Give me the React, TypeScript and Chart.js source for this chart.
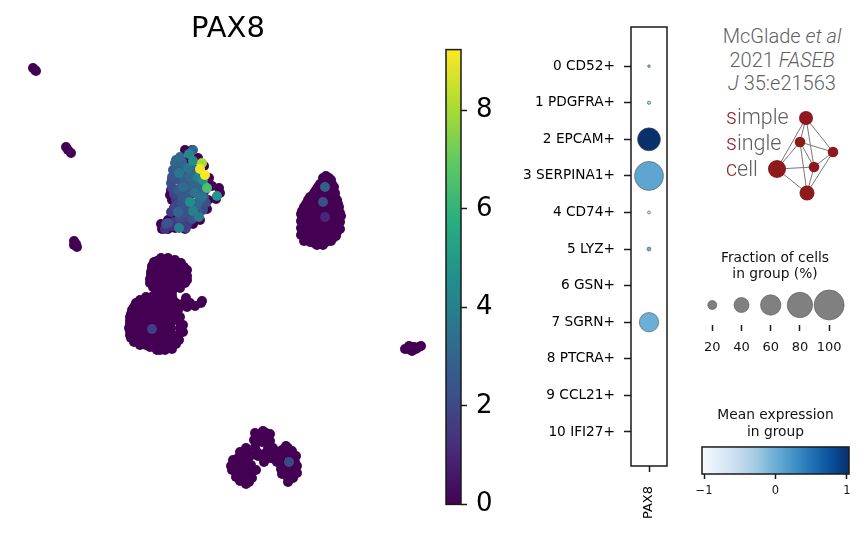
import React, { useEffect, useRef } from "react";
import { Chart, registerables } from "chart.js";
Chart.register(...registerables);

const FONT = "'DejaVu Sans'";
const geneTitle = "PAX8";

// ---- UMAP embedding points: [x, y] in embedding units; zero-expression cells
const clusterTinyA = [[33, 68], [35, 70], [36, 71]];
const clusterTinyB = [[66, 147], [68, 150], [71, 153]];
const clusterTinyC = [[74, 241], [76, 244], [77, 247], [74, 245]];
const clusterMainTop = [
  [157, 261], [164, 260], [171, 261], [177, 263], [184, 267], [187, 270], [152, 266], [158, 268], [165, 267], [172, 268],
  [179, 270], [186, 275], [151, 272], [157, 275], [164, 274], [171, 275], [178, 276], [187, 280], [150, 279], [156, 282],
  [163, 281], [170, 281], [177, 282], [183, 283], [153, 287], [160, 288], [167, 288], [174, 287], [180, 288], [158, 292],
  [165, 293], [172, 292], [150, 283],
  [154, 262], [161, 258], [168, 258], [175, 260], [181, 263], [186, 271], [187, 276], [185, 283], [151, 275], [152, 269], [151, 281],
];
const clusterMainLow = [
  [140, 300], [147, 300], [154, 300], [161, 300], [168, 300], [173, 300],
  [134, 307], [141, 307], [148, 307], [155, 307], [162, 307], [169, 307], [175, 307],
  [131, 314], [138, 314], [145, 314], [152, 314], [159, 314], [166, 314], [173, 314], [177, 314],
  [130, 321], [137, 321], [144, 321], [151, 321], [158, 321], [165, 321], [172, 321], [179, 321],
  [129, 328], [136, 328], [143, 328], [150, 328], [157, 328], [164, 328], [171, 328], [180, 328],
  [130, 335], [137, 335], [144, 335], [151, 335], [158, 335], [165, 335], [172, 335], [178, 335],
  [136, 341], [143, 341], [150, 341], [157, 341], [164, 341], [171, 341], [175, 339],
  [154, 347], [161, 347], [168, 347], [160, 350], [165, 350],
  [136, 303], [132, 310], [130, 317], [130, 324], [130, 331], [131, 338], [134, 342], [140, 345], [146, 345], [150, 347],
  [157, 350], [172, 349], [176, 344], [179, 340], [183, 332], [183, 325], [180, 317], [178, 310], [176, 303], [172, 296],
  [146, 297], [153, 296], [160, 296],
];
const clusterMainSide = [[186, 298], [184, 303], [190, 303], [187, 307], [195, 306], [201, 303], [202, 301]];
const clusterRight = [
  [323, 178], [329, 178], [320, 184], [326, 184], [332, 184],
  [316, 190], [322, 190], [329, 190], [333, 190],
  [310, 197], [317, 197], [324, 197], [331, 197], [335, 197],
  [306, 204], [313, 204], [320, 204], [327, 204], [334, 204], [338, 204],
  [302, 211], [309, 211], [316, 211], [323, 211], [330, 211], [337, 211], [340, 213],
  [303, 218], [310, 218], [317, 218], [324, 218], [331, 218], [338, 218],
  [303, 225], [310, 225], [317, 225], [324, 225], [331, 225], [338, 225],
  [302, 232], [309, 232], [316, 232], [323, 232], [330, 232], [337, 232],
  [306, 238], [313, 238], [320, 238], [327, 238], [333, 238],
  [314, 243], [320, 243], [326, 242],
  [326, 176], [318, 187], [314, 193], [308, 200], [304, 207], [301, 214], [301, 221], [301, 228], [301, 235], [304, 241],
  [310, 242], [317, 245], [323, 245], [331, 241], [336, 236], [340, 229], [340, 222], [341, 216], [339, 207], [337, 200],
  [335, 193], [334, 187], [331, 180],
];
const clusterFar = [[408, 349], [412, 351], [414, 347], [419, 347], [421, 346], [409, 346], [416, 349], [411, 347], [405, 349]];
const clusterBottom = [
  [260, 434], [266, 433], [263, 439], [258, 440], [268, 438], [258, 436],
  [233, 465], [238, 458], [236, 472], [242, 453], [244, 462], [241, 470], [244, 478], [249, 482],
  [250, 456], [251, 465], [250, 473], [256, 470], [255, 447], [268, 448], [264, 454], [257, 452], [272, 452],
  [288, 448], [286, 452], [281, 457], [290, 455], [295, 462], [284, 464], [277, 462], [290, 468],
  [285, 472], [294, 472], [288, 478], [281, 469], [247, 450], [238, 465], [244, 471], [291, 461],
  [264, 462], [270, 458],
  [233, 460], [231, 466], [232, 470], [236, 477], [240, 481], [246, 484], [252, 478], [240, 452], [246, 448],
  [286, 446], [292, 451], [296, 456], [297, 466], [297, 473], [293, 478], [288, 482], [282, 474], [278, 458], [282, 450],
  [255, 433], [263, 431], [270, 434], [270, 441], [262, 442], [254, 440], [247, 457], [240, 464], [248, 468],
  [273, 448], [276, 452], [268, 455], [274, 459], [258, 456],
];
const clusterEpiEdge = [
  [185, 150], [192, 150], [198, 158], [204, 166], [209, 178], [212, 186], [219, 188], [220, 193], [216, 199], [208, 200],
  [207, 209], [200, 220], [193, 224], [185, 229], [175, 228], [168, 229], [162, 229], [161, 224], [168, 220], [173, 215],
  [174, 208], [172, 200], [171, 190], [172, 180], [176, 170], [180, 160],
  [180, 170], [186, 185], [178, 200], [190, 195], [195, 215], [186, 205], [180, 208], [170, 195], [176, 190], [176, 178],
  [186, 162], [197, 170], [205, 190], [198, 212], [183, 222], [174, 218],
];

// ---- cells with non-zero PAX8: [x, y, expression]
const expressing = [
  [172, 177, 2.4], [172, 188, 2.0], [171, 183, 2.2], [174, 194, 1.9], [176, 200, 1.5], [175, 207, 2.0], [173, 170, 2.6],
  [178, 180, 2.3], [178, 190, 2.6], [181, 195, 2.1], [182, 205, 2.4], [180, 217, 2.2], [174, 222, 1.6], [166, 224, 2.2],
  [168, 223, 2.4], [185, 212, 2.3], [188, 223, 1.5], [187, 217, 2.0], [192, 219, 2.4], [184, 178, 2.8], [186, 170, 2.6],
  [181, 167, 2.7], [176, 160, 2.8], [190, 190, 2.7], [199, 192, 3.0], [204, 197, 2.4], [206, 203, 2.2], [195, 207, 2.8],
  [203, 210, 2.1], [193, 170, 3.0], [197, 183, 3.0],
  [183, 172, 2.4], [187, 195, 2.2], [179, 203, 2.0], [188, 208, 2.3], [171, 212, 1.6], [165, 229, 1.4], [172, 226, 1.3],
  [186, 228, 1.8], [198, 211, 2.6], [180, 222, 1.8], [177, 167, 2.5], [186, 182, 2.5], [197, 188, 2.4], [203, 189, 3.0],
  [200, 172, 3.8],
  [193, 150, 3.0], [189, 154, 4.2], [180, 157, 3.2], [193, 161, 4.5], [175, 163, 3.0], [182, 162, 3.0], [179, 173, 3.6],
  [188, 168, 3.5], [198, 177, 4.0], [190, 177, 3.2], [183, 187, 3.2], [193, 185, 3.0], [203, 180, 4.6], [195, 193, 3.5],
  [202, 197, 3.5], [183, 198, 2.6], [190, 202, 4.5], [198, 202, 3.2], [193, 211, 4.0], [178, 212, 3.0], [199, 217, 3.8],
  [179, 228, 4.0], [217, 196, 4.8], [207, 188, 6.5], [202, 163, 8.0], [200, 169, 9.0], [205, 175, 9.2],
  [325, 187, 2.7], [323, 202, 2.2], [325, 217, 1.0], [152, 329, 1.7], [289, 462, 2.0],
];

const umapColorTicks = [0, 2, 4, 6, 8];
const umapMax = 9.23;

// ---- dot plot
const clusterNames = ["0 CD52+", "1 PDGFRA+", "2 EPCAM+", "3 SERPINA1+", "4 CD74+", "5 LYZ+", "6 GSN+", "7 SGRN+", "8 PTCRA+", "9 CCL21+", "10 IFI27+"];
const fractionPct = [3.9, 5.5, 70, 95.6, 4.6, 6.8, 0, 55.9, 0, 0, 0];
const meanExpr = [-0.1, -0.3, 1, 0.08, -0.6, 0, 0, 0, 0, 0, 0];

// ---- legends
const sizeLegendPct = [20, 40, 60, 80, 100];
const meanTicks = [-1, 0, 1];
const meanTickLabels = ["\u22121", "0", "1"];

// ---- logo network
const logoX = [806, 800, 833, 814, 777, 807];
const logoY = [118, 142, 152, 167, 169, 193];
const logoR = [7, 5.3, 5.3, 5.3, 9, 7.5];
const logoEdges = [[4, 0], [0, 1], [0, 2], [0, 3], [1, 2], [1, 3], [1, 4], [1, 5], [4, 3], [4, 5], [3, 2], [3, 5], [2, 5]];

const VIRIDIS = ["#440154", "#472d7b", "#3b528b", "#2c728e", "#21918c", "#28ae80", "#5ec962", "#addc30", "#fde725"];
const BLUES = ["#f7fbff", "#deebf7", "#c6dbef", "#9ecae1", "#6baed6", "#4292c6", "#2171b5", "#08519c", "#08306b"];

function lookup(stops: string[], t: number) {
  const c = Math.max(0, Math.min(1, t)) * (stops.length - 1);
  const i = Math.min(stops.length - 2, Math.floor(c));
  const f = c - i;
  const rgb = (h: string) => [1, 3, 5].map((k) => parseInt(h.slice(k, k + 2), 16));
  const a = rgb(stops[i]);
  const b = rgb(stops[i + 1]);
  return `rgb(${a.map((v, k) => Math.round(v + (b[k] - v) * f)).join(",")})`;
}
const dotRadius = (pct: number) => 15 * Math.pow(pct / 100, 0.75);

const framePlugin = {
  id: "frame",
  afterDraw(chart: any, _a: any, opts: any) {
    if (!opts || !opts.on) return;
    const { left, top, right, bottom } = chart.chartArea;
    const c = chart.ctx;
    c.save();
    c.strokeStyle = "#1a1a1a";
    c.lineWidth = 1.5;
    c.strokeRect(left, top, right - left, bottom - top);
    c.restore();
  },
};

function gradientFill(chart: any, stops: string[], vertical: boolean) {
  const a = chart.chartArea;
  if (!a) return stops[0];
  const g = vertical
    ? chart.ctx.createLinearGradient(0, a.bottom, 0, a.top)
    : chart.ctx.createLinearGradient(a.left, 0, a.right, 0);
  stops.forEach((s, i) => g.addColorStop(i / (stops.length - 1), s));
  return g;
}

const plainPlugins = { legend: { display: false }, tooltip: { enabled: false }, title: { display: false } };
const fixedTicks = (vals: number[]) => (s: any) => {
  s.ticks = vals.map((value) => ({ value }));
};

const box = (left: number, top: number, width: number, height: number): React.CSSProperties => ({
  position: "absolute",
  left,
  top,
  width,
  height,
});

export default function App() {
  const umapRef = useRef<HTMLCanvasElement>(null);
  const cbarRef = useRef<HTMLCanvasElement>(null);
  const dotRef = useRef<HTMLCanvasElement>(null);
  const sizeRef = useRef<HTMLCanvasElement>(null);
  const meanRef = useRef<HTMLCanvasElement>(null);
  const logoRef = useRef<HTMLCanvasElement>(null);

  useEffect(() => {
    Chart.defaults.font.family = FONT;
    Chart.defaults.color = "#000";
    const base = { responsive: false, animation: false as const, maintainAspectRatio: false };
    const charts: Chart[] = [];

    const zeros = [
      ...clusterTinyA, ...clusterTinyB, ...clusterTinyC, ...clusterMainTop, ...clusterMainLow, ...clusterMainSide,
      ...clusterRight, ...clusterFar, ...clusterBottom, ...clusterEpiEdge,
    ].map(([x, y]) => ({ x, y, v: 0 }));
    const hot = expressing.map(([x, y, v]) => ({ x, y, v })).sort((a, b) => a.v - b.v);
    const cells = [...zeros, ...hot];

    charts.push(
      new Chart(umapRef.current!, {
        type: "scatter",
        data: {
          datasets: [
            {
              data: cells,
              pointRadius: 5,
              pointBorderWidth: 0,
              pointBackgroundColor: cells.map((p) => lookup(VIRIDIS, p.v / umapMax)),
            },
          ],
        },
        options: {
          ...base,
          layout: { autoPadding: false },
          plugins: {
            ...plainPlugins,
            title: {
              display: true,
              text: geneTitle,
              color: "#000",
              font: { family: FONT, size: 29, weight: "normal", lineHeight: 1.2 },
              padding: { top: 12, bottom: 3.2 },
            },
          },
          scales: {
            x: { display: false, min: 0, max: 456 },
            y: { display: false, min: 50, max: 537, reverse: true },
          },
        },
      } as any)
    );

    charts.push(
      new Chart(cbarRef.current!, {
        type: "bar",
        data: {
          labels: [geneTitle],
          datasets: [
            {
              data: [[0, umapMax]],
              barPercentage: 1,
              categoryPercentage: 1,
              backgroundColor: (c: any) => gradientFill(c.chart, VIRIDIS, true),
            },
          ],
        },
        options: {
          ...base,
          layout: { autoPadding: false, padding: { left: 6, top: 24, bottom: 24, right: 0 } },
          plugins: { ...plainPlugins, frame: { on: true } },
          scales: {
            x: { display: false },
            y: {
              position: "right",
              min: 0,
              max: umapMax,
              afterBuildTicks: fixedTicks(umapColorTicks),
              afterFit: (s: any) => {
                s.width = 59;
              },
              border: { display: false },
              grid: { drawOnChartArea: false, tickLength: 6, tickWidth: 1.5, tickColor: "#1a1a1a" },
              ticks: { font: { family: FONT, size: 26 }, padding: 9, color: "#000", callback: (v: any) => String(v) },
            },
          },
        },
        plugins: [framePlugin],
      } as any)
    );

    const dots = clusterNames
      .map((_, i) => ({ x: 0, y: i, r: dotRadius(fractionPct[i]), e: meanExpr[i] }))
      .filter((d, i) => fractionPct[i] > 0);
    charts.push(
      new Chart(dotRef.current!, {
        type: "bubble",
        data: {
          datasets: [
            {
              data: dots,
              clip: false,
              backgroundColor: dots.map((d) => lookup(BLUES, (d.e + 1) / 2)),
              borderColor: "#555",
              borderWidth: 0.6,
            },
          ],
        },
        options: {
          ...base,
          layout: { autoPadding: false, padding: { top: 30, right: 30, left: 0, bottom: 0 } },
          plugins: { ...plainPlugins, frame: { on: true } },
          scales: {
            x: {
              type: "linear",
              min: -1,
              max: 1,
              afterBuildTicks: fixedTicks([0]),
              afterFit: (s: any) => {
                s.height = 64;
              },
              border: { display: false },
              grid: { drawOnChartArea: false, tickLength: 6, tickWidth: 1.5, tickColor: "#1a1a1a" },
              ticks: { font: { family: FONT, size: 13 }, minRotation: 90, maxRotation: 90, padding: 14, color: "#000", callback: () => geneTitle },
            },
            y: {
              type: "linear",
              reverse: true,
              min: -1.07,
              max: 10.93,
              afterBuildTicks: fixedTicks(clusterNames.map((_, i) => i)),
              afterFit: (s: any) => {
                s.width = 121;
              },
              border: { display: false },
              grid: { drawOnChartArea: false, tickLength: 7, tickWidth: 1.5, tickColor: "#1a1a1a" },
              ticks: { font: { family: FONT, size: 13.7 }, padding: 9, color: "#000", callback: (v: any) => clusterNames[v] },
            },
          },
        },
        plugins: [framePlugin],
      } as any)
    );

    charts.push(
      new Chart(sizeRef.current!, {
        type: "bubble",
        data: {
          datasets: [
            {
              data: sizeLegendPct.map((p) => ({ x: p, y: 0, r: dotRadius(p) })),
              clip: false,
              backgroundColor: "#808080",
              borderColor: "#555",
              borderWidth: 0.6,
            },
          ],
        },
        options: {
          ...base,
          layout: { autoPadding: false },
          plugins: {
            ...plainPlugins,
            title: {
              display: true,
              text: ["Fraction of cells", "in group (%)"],
              color: "#111",
              font: { family: FONT, size: 13.8, weight: "normal", lineHeight: 1.2 },
              padding: { top: 0, bottom: 1.9 },
            },
          },
          scales: {
            x: {
              type: "linear",
              min: 8.6,
              max: 117.7,
              afterBuildTicks: fixedTicks(sizeLegendPct),
              afterFit: (s: any) => {
                s.height = 40;
              },
              border: { display: false },
              grid: { drawOnChartArea: false, tickLength: 6, tickWidth: 1.5, tickColor: "#1a1a1a" },
              ticks: { font: { family: FONT, size: 13 }, padding: 9, color: "#111", maxRotation: 0, callback: (v: any) => String(v) },
            },
            y: { display: false, min: -1, max: 1 },
          },
        },
      } as any)
    );

    charts.push(
      new Chart(meanRef.current!, {
        type: "bar",
        data: {
          labels: ["Mean expression"],
          datasets: [
            {
              data: [[-1.028, 1.03]],
              barPercentage: 1,
              categoryPercentage: 1,
              backgroundColor: (c: any) => gradientFill(c.chart, BLUES, false),
            },
          ],
        },
        options: {
          ...base,
          indexAxis: "y",
          layout: { autoPadding: false, padding: { left: 22, right: 21, top: 0, bottom: 0 } },
          plugins: {
            ...plainPlugins,
            frame: { on: true },
            title: {
              display: true,
              text: ["Mean expression", "in group"],
              color: "#111",
              font: { family: FONT, size: 13.8, weight: "normal", lineHeight: 1.22 },
              padding: { top: 0, bottom: 6.3 },
            },
          },
          scales: {
            y: { display: false },
            x: {
              type: "linear",
              min: -1.028,
              max: 1.03,
              afterBuildTicks: fixedTicks(meanTicks),
              afterFit: (s: any) => {
                s.height = 33;
              },
              border: { display: false },
              grid: { drawOnChartArea: false, tickLength: 5, tickWidth: 1.5, tickColor: "#1a1a1a" },
              ticks: {
                font: { family: FONT, size: 11.5 },
                padding: 5,
                color: "#111",
                maxRotation: 0,
                callback: (v: any) => meanTickLabels[meanTicks.indexOf(v)],
              },
            },
          },
        },
        plugins: [framePlugin],
      } as any)
    );

    charts.push(
      new Chart(logoRef.current!, {
        type: "scatter",
        data: {
          datasets: [
            {
              data: logoX.map((x, i) => ({ x, y: logoY[i] })),
              pointRadius: logoR,
              pointBorderWidth: 0,
              pointBackgroundColor: "#8f1a1e",
            },
            ...logoEdges.map(([a, b]) => ({
              data: [
                { x: logoX[a], y: logoY[a] },
                { x: logoX[b], y: logoY[b] },
              ],
              showLine: true,
              pointRadius: 0,
              borderColor: "#777",
              borderWidth: 1,
            })),
          ],
        },
        options: {
          ...base,
          layout: { autoPadding: false },
          plugins: plainPlugins,
          scales: {
            x: { display: false, min: 765, max: 845 },
            y: { display: false, min: 105, max: 205, reverse: true },
          },
        },
      } as any)
    );

    return () => charts.forEach((c) => c.destroy());
  }, []);

  const logoText: React.CSSProperties = {
    position: "absolute",
    fontFamily: "Roboto, 'Liberation Sans', sans-serif",
    fontWeight: 300,
    color: "#5f5f5f",
    whiteSpace: "nowrap",
  };
  return (
    <div style={{ position: "absolute", left: 0, top: 0, width: 866, height: 537, overflow: "hidden", background: "#fff" }}>
      <canvas ref={umapRef} width={456} height={537} style={box(0, 0, 456, 537)} />
      <canvas ref={cbarRef} width={80} height={504} style={box(440, 25, 80, 504)} />
      <canvas ref={dotRef} width={187} height={533} style={box(510, -3, 187, 533)} />
      <canvas ref={sizeRef} width={160} height={115} style={box(695, 250, 160, 115)} />
      <canvas ref={meanRef} width={190} height={100} style={box(680, 407, 190, 100)} />
      <canvas ref={logoRef} width={80} height={100} style={box(765, 105, 80, 100)} />
      <div style={{ ...logoText, left: 702, width: 160, top: 25, textAlign: "center", fontSize: 20, lineHeight: "23.5px" }}>
        McGlade <i>et al</i>
        <br />
        2021 <i>FASEB</i>
        <br />
        <i>J</i> 35:e21563
      </div>
      {["simple", "single", "cell"].map((w, i) => (
        <div key={w} style={{ ...logoText, left: 726, top: 103 + i * 26, fontSize: 21.5, lineHeight: "28px" }}>
          <span style={{ color: "#8f1a1e" }}>{w[0]}</span>
          {w.slice(1)}
        </div>
      ))}
    </div>
  );
}
